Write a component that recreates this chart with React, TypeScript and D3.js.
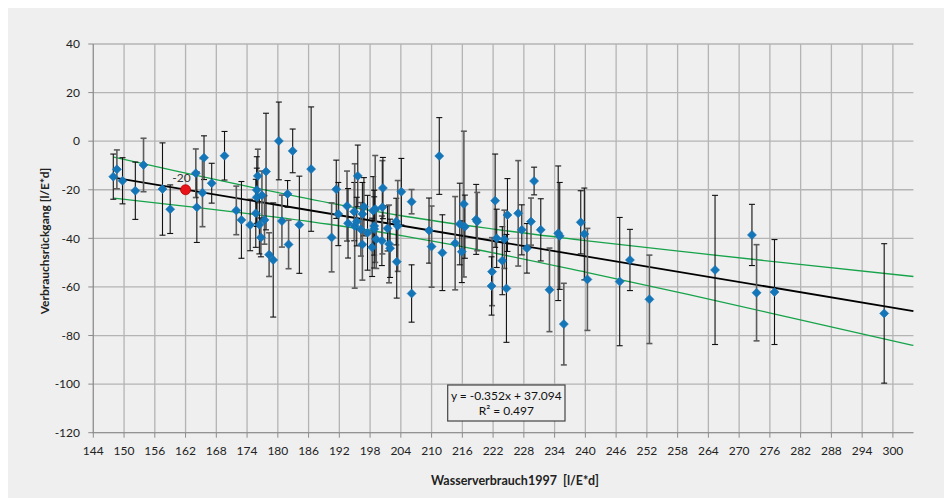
import React from "react";
import * as d3 from "d3";

// ---- data ----
const consumption1997: number[] = [
  147.9, 148.6, 149.7, 152.2, 153.8, 157.5, 159.0, 164.0, 164.2, 165.6,
  165.3, 167.1, 169.6, 171.9, 172.9, 174.6, 176.1, 175.9, 175.9, 176.9,
  175.7, 176.4, 177.4, 176.7, 177.7, 178.3, 179.1, 180.2, 180.8, 181.9,
  182.9, 182.1, 184.2, 186.5, 190.5, 191.4, 191.8, 193.5, 193.7, 194.9,
  195.0, 195.6, 195.4, 196.2, 196.5, 196.8, 196.5, 197.5, 198.6, 199.0,
  198.8, 198.8, 199.2, 198.4, 200.3, 200.4, 200.5, 201.4, 201.7, 201.9,
  203.1, 203.4, 203.2, 204.1, 206.1, 206.1, 209.5, 210.0, 211.5, 212.1,
  214.6, 215.5, 215.9, 216.3, 216.5, 218.7, 218.9, 222.4, 222.7, 221.8,
  221.7, 223.8, 224.2, 224.6, 224.8, 226.9, 227.6, 228.6, 229.4, 230.0,
  231.3, 233.0, 234.7, 235.0, 235.8, 239.1, 239.8, 240.4, 246.7, 248.7,
  252.5, 265.3, 272.5, 273.4, 276.9, 298.3,
];
const decline: number[] = [
  -14.6, -11.6, -16.3, -20.4, -9.8, -19.7, -28.0, -13.2, -27.2, -6.8,
  -21.2, -17.3, -6.0, -28.5, -32.4, -34.5, -14.3, -20.1, -23.1, -22.3,
  -29.7, -34.4, -32.4, -39.6, -12.5, -46.7, -48.9, 0.1, -32.9, -21.7,
  -4.0, -42.5, -34.4, -11.5, -39.6, -19.8, -30.0, -26.7, -33.8, -29.0,
  -34.9, -14.3, -33.1, -36.3, -30.0, -27.0, -42.5, -37.7, -28.6, -27.9,
  -34.9, -36.2, -40.4, -43.7, -41.0, -27.2, -19.3, -35.9, -42.3, -44.1,
  -33.1, -34.9, -49.6, -20.8, -24.9, -62.7, -36.8, -43.4, -6.1, -45.9,
  -42.0, -34.1, -45.5, -25.9, -35.2, -32.2, -33.1, -24.5, -40.0, -53.7,
  -59.6, -49.2, -40.4, -60.6, -30.4, -29.7, -36.5, -44.1, -33.1, -16.4,
  -36.5, -61.2, -37.9, -39.0, -75.3, -33.4, -38.2, -56.9, -57.8, -48.9,
  -65.1, -53.0, -38.6, -62.4, -62.1, -70.9,
];
const errorHalf: number[] = [
  9.3, 8, 9.5, 11.8, 11, 19, 10, 10, 14.5, 9,
  14, 8.2, 10, 10, 15.8, 10.6, 11, 13.7, 12, 10,
  14, 12, 10, 8, 24, 9, 23.5, 16, 10.7, 5.5,
  9, 10, 20, 25.6, 14.2, 12, 13, 14.4, 14.3, 12,
  25.6, 12.7, 10, 11, 13, 12, 14.7, 15.4, 14, 22,
  12, 16, 12, 12, 10.2, 19.2, 12.6, 9.3, 16, 12,
  9.6, 18.7, 15, 13.7, 5, 11.8, 13.4, 16.7, 15.8, 15.6,
  19.2, 16.8, 12.7, 30, 13, 14.4, 12, 19.2, 12, 14,
  12, 14, 12, 22.2, 15, 21.7, 10.3, 10.2, 9.7, 5.7,
  12.8, 17.2, 27.7, 22, 16.8, 13, 18.9, 21, 26.4, 12.6,
  18.2, 30.7, 12.6, 19.8, 21.6, 28.7,
];

const highlightX: number[] = [162];
const highlightY: number[] = [-20];
const highlightLabel: string[] = ["-20"];

// regression shown in the chart: y = -0.352x + 37.094
const trendSlope = -0.352;
const trendIntercept = 37.094;
const trendRange: number[] = [148, 304];

// confidence band
const bandX: number[] = [148, 160, 175, 190, 205, 220, 240, 260, 280, 304];
const bandUpper: number[] = [-6.6, -12.2, -19.0, -25.4, -31.0, -35.6, -40.9, -45.7, -50.3, -55.7];
const bandLower: number[] = [-23.4, -26.3, -30.0, -34.2, -39.2, -45.1, -53.9, -63.1, -72.6, -84.1];

const xTicks: number[] = d3.range(144, 301, 6);
const yTicks: number[] = d3.range(-120, 41, 20);

const equationLines: string[] = ["y = -0.352x + 37.094", "R² = 0.497"];
const xTitle = "Wasserverbrauch1997  [l/E*d]";
const yTitle = "Verbrauchsrückgang [l/E*d]";

export default function App() {
  const W = 952;
  const H = 502;
  const x = d3.scaleLinear().domain([144, 304]).range([93.3, 913.4]);
  const y = d3.scaleLinear().domain([-120, 40]).range([432.7, 44]);
  const font = "Lato, 'Open Sans', sans-serif";

  const trendLine = d3
    .line<number>()
    .x((d) => x(d))
    .y((d) => y(trendSlope * d + trendIntercept));
  const bandLine = (vals: number[]) =>
    d3
      .line<number>()
      .x((_, i) => x(bandX[i]))
      .y((d) => y(d))
      .curve(d3.curveMonotoneX)(vals) || "";

  const r = 4.5;
  const diamond = `M0,${-r}L${r},0L0,${r}L${-r},0Z`;

  return (
    <svg
      width={W}
      height={H}
      style={{ position: "absolute", left: 0, top: 0 }}
      fontFamily={font}
    >
      <rect x={0} y={0} width={W} height={H} fill="#ffffff" />
      <rect x={8} y={8} width={936} height={490} fill="#efefef" />

      {/* gridlines */}
      {yTicks.map((t) => (
        <line
          key={"gy" + t}
          x1={x(144)}
          x2={x(304)}
          y1={y(t)}
          y2={y(t)}
          stroke="#b4b4b4"
          strokeWidth={1.3}
        />
      ))}
      {xTicks.map((t) => (
        <line
          key={"gx" + t}
          x1={x(t)}
          x2={x(t)}
          y1={y(40)}
          y2={y(-120)}
          stroke="#b4b4b4"
          strokeWidth={1.3}
        />
      ))}

      {/* axes */}
      <line x1={x(144)} x2={x(144)} y1={y(40)} y2={y(-120)} stroke="#8c8c8c" strokeWidth={1} />
      <line x1={x(144) - 1} x2={x(304)} y1={y(-120)} y2={y(-120)} stroke="#8c8c8c" strokeWidth={1} />
      {yTicks.map((t) => (
        <g key={"yt" + t}>
          <line x1={x(144) - 5} x2={x(144)} y1={y(t)} y2={y(t)} stroke="#8c8c8c" />
          <text
            x={80}
            y={y(t)}
            dy="0.35em"
            textAnchor="end"
            fontSize={12}
            fill="#222"
          >
            {t}
          </text>
        </g>
      ))}
      {xTicks.map((t) => (
        <g key={"xt" + t}>
          <line x1={x(t)} x2={x(t)} y1={y(-120)} y2={y(-120) + 5} stroke="#8c8c8c" />
          <text x={x(t)} y={455} textAnchor="middle" fontSize={12} fill="#222">
            {t}
          </text>
        </g>
      ))}

      {/* regression + confidence band */}
      <path d={bandLine(bandUpper)} fill="none" stroke="#17a34a" strokeWidth={1.3} />
      <path d={bandLine(bandLower)} fill="none" stroke="#17a34a" strokeWidth={1.3} />
      <path d={trendLine(trendRange) || ""} fill="none" stroke="#000" strokeWidth={1.8} />

      {/* error bars */}
      {consumption1997.map((xv, i) => {
        const px = x(xv);
        const top = y(decline[i] + errorHalf[i]);
        const bot = y(decline[i] - errorHalf[i]);
        const grey = i % 3 === 1;
        const col = grey ? "#5c5c5c" : "#111";
        const sw = grey ? 1.6 : 1.1;
        return (
          <g key={"eb" + i} stroke={col} strokeWidth={sw}>
            <line x1={px} x2={px} y1={top} y2={bot} />
            <line x1={px - 3} x2={px + 3} y1={top} y2={top} />
            <line x1={px - 3} x2={px + 3} y1={bot} y2={bot} />
          </g>
        );
      })}

      {/* markers */}
      {consumption1997.map((xv, i) => (
        <path
          key={"m" + i}
          d={diamond}
          transform={`translate(${x(xv)},${y(decline[i])})`}
          fill="#1276b8"
          stroke="#1a6fae"
          strokeWidth={0.6}
        />
      ))}

      {/* highlighted point */}
      {highlightX.map((hx, i) => (
        <g key={"h" + i}>
          <circle cx={x(hx)} cy={y(highlightY[i])} r={5} fill="#e8141a" stroke="#b00000" strokeWidth={0.8} />
          <text
            x={x(hx) - 4}
            y={y(highlightY[i]) - 8}
            textAnchor="middle"
            fontSize={12}
            fill="#333"
          >
            {highlightLabel[i]}
          </text>
        </g>
      ))}

      {/* equation box */}
      <rect x={447.7} y={385} width={117.3} height={36} fill="#efefef" stroke="#444" strokeWidth={1.2} />
      {equationLines.map((s, i) => (
        <text key={"eq" + i} x={506.3} y={399.5 + i * 15} textAnchor="middle" fontSize={12} fill="#111">
          {s}
        </text>
      ))}

      {/* axis titles */}
      <text
        x={515}
        y={485}
        textAnchor="middle"
        fontSize={12.5}
        fontWeight="bold"
        fill="#222"
        style={{ whiteSpace: "pre" }}
      >
        {xTitle}
      </text>
      <text
        transform={`translate(49,241) rotate(-90)`}
        textAnchor="middle"
        fontSize={12}
        fontWeight="bold"
        fill="#222"
      >
        {yTitle}
      </text>
    </svg>
  );
}
